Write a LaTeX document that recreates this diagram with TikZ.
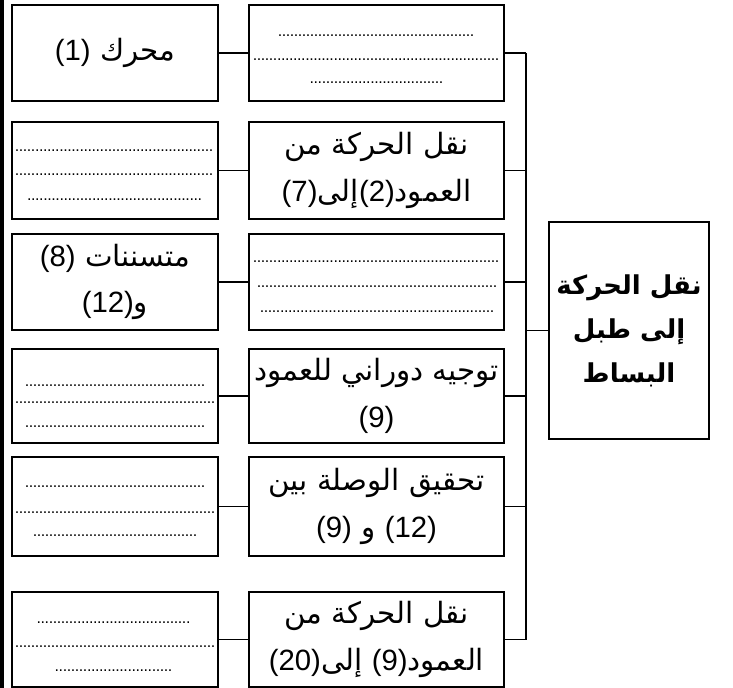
\documentclass[tikz,border=0pt]{standalone}
\usepackage{fontspec}
\TeXXeTstate=1
\newfontfamily\arabicfont[Script=Arabic]{DejaVu Sans}
\newfontfamily\latinfont{Liberation Sans}
% a left-to-right piece (numbers in brackets) inside right-to-left text
\newcommand\ltr[1]{\beginL{\latinfont #1}\endL}
% a row of typed full stops, #1 wide
\newcommand\fillrow[1]{\hbox to #1{\xleaders\hbox to 3pt{\hss.\hss}\hfill}}
\begin{document}
\begin{tikzpicture}[x=0.75pt,y=-0.75pt,
  box/.style={draw,line width=1.4pt,rectangle,inner sep=0pt},
  lbox/.style={box,minimum width=154.5pt},
  rbox/.style={box,minimum width=191.25pt},
  txt/.style={align=center,inner sep=0pt,font=\arabicfont\fontsize{22}{31}\selectfont},
  dotsty/.style={anchor=base,inner sep=0pt,font=\latinfont\fontsize{12}{14}\selectfont},
  link/.style={line width=1.3pt}]
\useasboundingbox (0,0) rectangle (733,688);
\fill (0,0) rectangle (3.5,688);

% left column
\node[lbox,minimum height=72pt]    (L1) at (115,53) {};
\node[lbox,minimum height=72.75pt] (L2) at (115,170.5) {};
\node[lbox,minimum height=72pt]    (L3) at (115,282) {};
\node[lbox,minimum height=70.5pt]  (L4) at (115,396) {};
\node[lbox,minimum height=74.25pt] (L5) at (115,506.5) {};
\node[lbox,minimum height=71.25pt] (L6) at (115,639.5) {};

% right column
\node[rbox,minimum height=72pt]    (R1) at (376.5,53) {};
\node[rbox,minimum height=72.75pt] (R2) at (376.5,170.5) {};
\node[rbox,minimum height=72pt]    (R3) at (376.5,282) {};
\node[rbox,minimum height=70.5pt]  (R4) at (376.5,396) {};
\node[rbox,minimum height=74.25pt] (R5) at (376.5,506.5) {};
\node[rbox,minimum height=71.25pt] (R6) at (376.5,639.5) {};

% main function
\node[box,minimum width=120pt,minimum height=162.75pt] (M) at (629,330.5) {};
\node[txt,font=\arabicfont\bfseries\fontsize{19.5}{33}\selectfont] (Mt) at (M.center)
  {\beginR نقل الحركة\endR\\ \beginR إلى طبل\endR\\ \beginR البساط\endR};

% texts
\node[txt] (L1t) at (L1.center) {\beginR محرك \ltr{(1)}\endR};
\node[txt] (R2t) at (R2.center) {\beginR نقل الحركة من\endR\\[4pt] \beginR العمود\ltr{(2)}إلى\ltr{(7)}\endR};
\node[txt] (L3t) at (L3.center) {\beginR متسننات \ltr{(8)}\endR\\[4pt] \beginR و\ltr{(12)}\endR};
\node[txt] (R4t) at (R4.center) {\beginR توجيه دوراني للعمود\endR\\[4pt] \beginR\ltr{(9)}\endR};
\node[txt] (R5t) at (R5.center) {\beginR تحقيق الوصلة بين\endR\\[4pt] \beginR\ltr{(12)} و \ltr{(9)}\endR};
\node[txt] (R6t) at (R6.center) {\beginR نقل الحركة من\endR\\[4pt] \beginR العمود\ltr{(9)} إلى\ltr{(20)}\endR};

% rows of dots to be filled in
\node[dotsty] (R1a) at (376,37)   {\fillrow{147pt}};
\node[dotsty] (R1b) at (376,61)   {\fillrow{184.5pt}};
\node[dotsty] (R1c) at (376.5,84) {\fillrow{100pt}};

\node[dotsty] (L2a) at (114,152)   {\fillrow{148.5pt}};
\node[dotsty] (L2b) at (114,176)   {\fillrow{148.5pt}};
\node[dotsty] (L2c) at (114.5,201) {\fillrow{131pt}};

\node[dotsty] (R3a) at (376,263) {\fillrow{184.5pt}};
\node[dotsty] (R3b) at (377,288) {\fillrow{180pt}};
\node[dotsty] (R3c) at (377,313) {\fillrow{175.5pt}};

\node[dotsty] (L4a) at (115,387) {\fillrow{135pt}};
\node[dotsty] (L4b) at (115,403) {\fillrow{150pt}};
\node[dotsty] (L4c) at (115,427) {\fillrow{135pt}};

\node[dotsty] (L5a) at (115,488) {\fillrow{135pt}};
\node[dotsty] (L5b) at (115,513) {\fillrow{150pt}};
\node[dotsty] (L5c) at (115,537) {\fillrow{123pt}};

\node[dotsty] (L6a) at (113.5,623) {\fillrow{115pt}};
\node[dotsty] (L6b) at (115,647)   {\fillrow{150pt}};
\node[dotsty] (L6c) at (113.5,671) {\fillrow{88pt}};

% links between the columns
\foreach \i in {1,...,6} {
  \draw[link] (L\i.east) -- (R\i.west);
}
% bus joining the right column to the main function
\coordinate (bus) at (526,0);
\foreach \i in {1,...,6} {
  \draw[link] (R\i.east) -- (R\i.east -| bus);
}
\draw[link] (R1.east -| bus) -- (R6.east -| bus);
\draw[link] (M.west -| bus) -- (M.west);
\end{tikzpicture}
\end{document}
